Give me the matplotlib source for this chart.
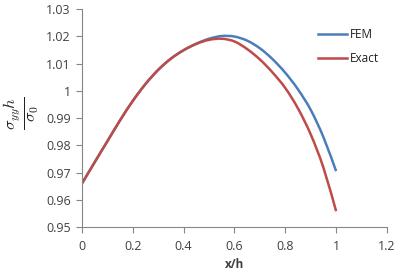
import numpy as np
import matplotlib.pyplot as plt
from matplotlib.path import Path
from matplotlib.patches import PathPatch

# values
x_h = [0.0, 0.05, 0.1, 0.15, 0.2, 0.25, 0.3, 0.35, 0.4, 0.45, 0.5,
       0.55, 0.6, 0.65, 0.7, 0.75, 0.8, 0.85, 0.9, 0.95, 1.0]
fem = [0.966, 0.9738, 0.9815, 0.9892, 0.9963, 1.0025, 1.0077, 1.0118, 1.0149, 1.0173, 1.0191,
       1.0201, 1.0199, 1.0184, 1.0156, 1.0116, 1.0066, 1.0005, 0.993, 0.983, 0.9705]
exact = [0.966, 0.9738, 0.9815, 0.9892, 0.9963, 1.0025, 1.0077, 1.0118, 1.0149, 1.0172, 1.0187,
         1.0191, 1.0181, 1.0153, 1.0115, 1.0067, 1.001, 0.9935, 0.984, 0.9718, 0.9558]
xticks = [0, 0.2, 0.4, 0.6, 0.8, 1, 1.2]
xtick_labels = ['0', '0.2', '0.4', '0.6', '0.8', '1', '1.2']
yticks = [0.95, 0.96, 0.97, 0.98, 0.99, 1.0, 1.01, 1.02, 1.03]
ytick_labels = ['0.95', '0.96', '0.97', '0.98', '0.99', '1', '1.01', '1.02', '1.03']

plt.rcParams['font.family'] = ['Open Sans', 'DejaVu Sans']
plt.rcParams['mathtext.fontset'] = 'cm'


def smooth_path(xs, ys):
    # Excel-style smoothed line: Catmull-Rom segments drawn as cubic Beziers
    p = np.column_stack([xs, ys])
    verts = [p[0]]
    codes = [Path.MOVETO]
    n = len(p)
    for i in range(n - 1):
        p0 = p[max(i - 1, 0)]
        p1 = p[i]
        p2 = p[i + 1]
        p3 = p[min(i + 2, n - 1)]
        verts += [p1 + (p2 - p0) / 6, p2 - (p3 - p1) / 6, p2]
        codes += [Path.CURVE4] * 3
    return Path(verts, codes)


fig = plt.figure(figsize=(3.95, 2.74), dpi=100)
ax = fig.add_axes([0.2076, 0.1715, 0.772, 0.7955])

for ys, col, name in [(fem, '#4A7EBB', 'FEM'), (exact, '#BE4B48', 'Exact')]:
    ax.add_patch(PathPatch(smooth_path(x_h, ys), facecolor='none', edgecolor=col, lw=1.8))
    ax.plot([], [], color=col, lw=1.8, label=name)

ax.set_xlim(0, 1.2)
ax.set_ylim(0.95, 1.03)
ax.set_xticks(xticks)
ax.set_xticklabels(xtick_labels)
ax.set_yticks(yticks)
ax.set_yticklabels(ytick_labels)

for side in ['top', 'right']:
    ax.spines[side].set_visible(False)
for side in ['left', 'bottom']:
    ax.spines[side].set_color('#868686')
    ax.spines[side].set_linewidth(0.8)
ax.tick_params(direction='out', length=4, width=0.8, color='#868686',
               labelsize=9, labelcolor='#404040')
ax.tick_params(axis='x', pad=5)
ax.tick_params(axis='y', pad=4)

ax.set_xlabel('x/h', fontsize=8.5, fontweight='bold', color='#404040', labelpad=4)
ax.set_ylabel(r'$\frac{\sigma_{yy}h}{\sigma_0}$', fontsize=17, color='#202020', va='center')
ax.yaxis.set_label_coords(-0.2, 0.52)

ax.legend(loc='upper left', bbox_to_anchor=(0.74, 0.96), frameon=False,
          fontsize=8.5, handlelength=2.4, handletextpad=0.25, labelspacing=0.9,
          labelcolor='#202020')

fig.savefig('out.png', dpi=100)
